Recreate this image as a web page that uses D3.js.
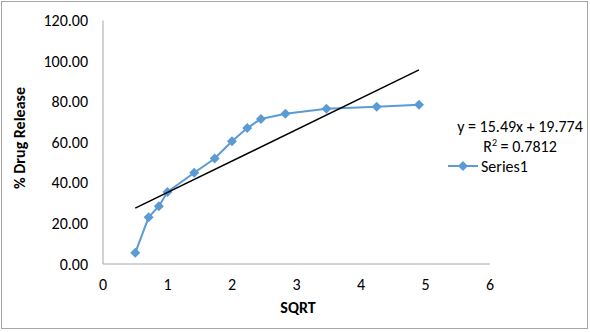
<!DOCTYPE html>
<html><head><meta charset="utf-8">
<script src="https://cdn.jsdelivr.net/npm/d3@7"></script>
<style>body{margin:0;background:#fff}svg text{font-family:Carlito,Calibri,Lato,"Liberation Sans",sans-serif}</style>
</head><body><svg id="c" width="590" height="332"></svg>
<script>
const sqrtX = [0.5, 0.707, 0.866, 1, 1.414, 1.732, 2, 2.236, 2.449, 2.828, 3.464, 4.243, 4.899];
const release = [5.5, 23.0, 28.5, 35.5, 45.0, 52.0, 60.5, 67.0, 71.5, 74.0, 76.5, 77.5, 78.5];
const yTicks = [0, 20, 40, 60, 80, 100, 120];
const xTicks = [0, 1, 2, 3, 4, 5, 6];
const slope = 15.49, intercept = 19.774;
const eqText = "y = 15.49x + 19.774";
const r2Value = "0.7812";
const seriesName = "Series1";

const FS = 16;
const svg = d3.select("#c");
svg.append("rect").attr("x",1.5).attr("y",1.5).attr("width",586).attr("height",327)
  .attr("fill","#fff").attr("stroke","#a6a6a6").attr("stroke-width",1);

const x = d3.scaleLinear().domain([0,6]).range([103,490]);
const y = d3.scaleLinear().domain([0,120]).range([264,20.5]);

svg.append("line").attr("x1",x(0)).attr("x2",x(0)).attr("y1",y(0)).attr("y2",y(120)).attr("stroke","#a6a6a6");
svg.append("line").attr("x1",x(0)).attr("x2",x(6)).attr("y1",y(0)).attr("y2",y(0)).attr("stroke","#a6a6a6");

svg.append("g").selectAll("text").data(yTicks).join("text")
  .attr("x",88).attr("y",d=>y(d)).attr("dy","0.35em").attr("text-anchor","end")
  .attr("font-size",FS).attr("fill","#000").text(d=>d3.format(".2f")(d));
svg.append("g").selectAll("text").data(xTicks).join("text")
  .attr("x",d=>x(d)).attr("y",284).attr("dy","0.35em").attr("text-anchor","middle")
  .attr("font-size",FS).attr("fill","#000").text(d=>d);

svg.append("text").attr("x",298).attr("y",307).attr("dy","0.35em").attr("text-anchor","middle")
  .attr("font-size",FS).attr("font-weight","bold").text("SQRT");
svg.append("text").attr("transform","translate(19,138) rotate(-90)").attr("dy","0.35em")
  .attr("text-anchor","middle").attr("font-size",FS).attr("font-weight","bold").text("%  Drug Release");

const pts = sqrtX.map((v,i)=>[v,release[i]]);
const dm = "M0,-5L5,0L0,5L-5,0Z";
const col = "#5b9bd5";
svg.append("path").datum(pts).attr("fill","none").attr("stroke",col).attr("stroke-width",2)
  .attr("d",d3.line().x(d=>x(d[0])).y(d=>y(d[1])));
svg.append("g").selectAll("path").data(pts).join("path")
  .attr("transform",d=>`translate(${x(d[0])},${y(d[1])})`).attr("d",dm).attr("fill",col);

const tx = d3.extent(sqrtX);
svg.append("line").attr("x1",x(tx[0])).attr("y1",y(slope*tx[0]+intercept))
  .attr("x2",x(tx[1])).attr("y2",y(slope*tx[1]+intercept)).attr("stroke","#000").attr("stroke-width",1.5);

svg.append("text").attr("x",520).attr("y",126).attr("dy","0.35em").attr("text-anchor","middle")
  .attr("font-size",FS).text(eqText);
const r2 = svg.append("text").attr("x",520).attr("y",146).attr("dy","0.35em").attr("text-anchor","middle").attr("font-size",FS);
r2.append("tspan").text("R");
r2.append("tspan").attr("font-size",10).attr("dy","-6").text("2");
r2.append("tspan").attr("dy","6").text(" = " + r2Value);
svg.append("line").attr("x1",448).attr("x2",478).attr("y1",166).attr("y2",166).attr("stroke",col).attr("stroke-width",2);
svg.append("path").attr("transform","translate(463,166)").attr("d",dm).attr("fill",col);
svg.append("text").attr("x",481).attr("y",166).attr("dy","0.35em").attr("font-size",FS).text(seriesName);
</script></body></html>
